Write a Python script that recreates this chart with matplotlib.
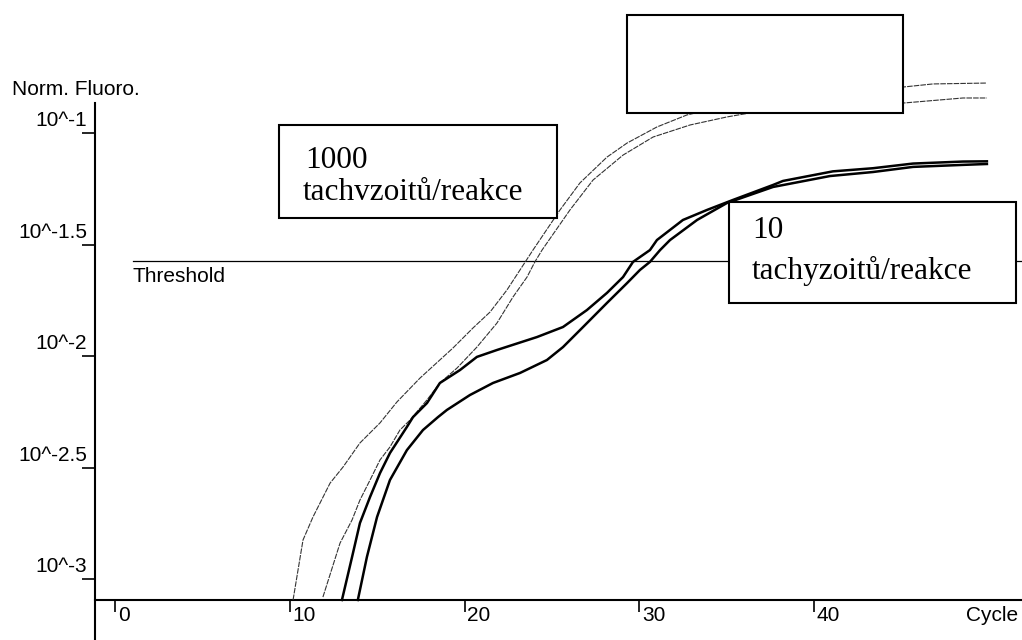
import matplotlib
matplotlib.use("Agg")
import matplotlib.pyplot as plt
from matplotlib.patches import Rectangle

# ---------------- data (log10 of normalised fluorescence vs cycle) ----------------
cyc_a = [10.17, 10.74, 11.31, 12.29, 13.03, 14.00, 15.15, 16.12, 17.44, 19.33, 20.48,
         21.45, 22.42, 23.17, 23.91, 25.46, 26.60, 28.15, 29.30, 31.01, 32.73, 36.0,
         40.0, 45.10, 46.82, 49.91]
log_a = [-3.094, -2.825, -2.722, -2.570, -2.498, -2.390, -2.300, -2.206, -2.099, -1.964,
         -1.874, -1.803, -1.704, -1.614, -1.525, -1.345, -1.224, -1.108, -1.045, -0.973,
         -0.919, -0.86, -0.82, -0.794, -0.780, -0.776]

cyc_b = [11.88, 12.86, 13.55, 14.00, 14.58, 15.15, 15.72, 16.29, 16.87, 17.84, 18.58,
         19.56, 20.70, 21.85, 22.77, 23.57, 24.02, 24.43, 26.03, 27.35, 29.07, 30.79,
         32.91, 35.02, 36.34, 40.5, 45.22, 48.54, 49.91]
log_b = [-3.081, -2.839, -2.735, -2.646, -2.556, -2.466, -2.408, -2.332, -2.287, -2.197,
         -2.121, -2.054, -1.960, -1.852, -1.735, -1.646, -1.578, -1.525, -1.345, -1.211,
         -1.099, -1.018, -0.964, -0.928, -0.910, -0.885, -0.865, -0.843, -0.843]

cyc_c = [12.97, 13.55, 14.00, 14.58, 15.15, 15.72, 16.69, 17.04, 17.84, 18.58, 19.73,
         20.70, 21.85, 24.14, 25.63, 27.00, 28.15, 29.07, 29.64, 30.61, 31.01, 32.50,
         33.88, 35.37, 37.66, 38.23, 41.09, 43.38, 45.68, 48.54, 49.91]
log_c = [-3.094, -2.901, -2.749, -2.632, -2.525, -2.435, -2.318, -2.274, -2.211, -2.121,
         -2.063, -2.004, -1.973, -1.915, -1.870, -1.794, -1.717, -1.646, -1.578, -1.525,
         -1.480, -1.390, -1.345, -1.300, -1.233, -1.215, -1.172, -1.158, -1.137, -1.128,
         -1.127]

cyc_d = [13.88, 14.40, 14.98, 15.72, 16.69, 17.61, 18.47, 18.98, 20.30, 21.62, 23.17,
         24.71, 25.63, 26.78, 28.15, 29.30, 30.04, 30.61, 31.19, 31.76, 33.31, 35.02,
         37.66, 40.92, 43.38, 45.68, 48.54, 49.91]
log_d = [-3.094, -2.901, -2.722, -2.556, -2.422, -2.332, -2.274, -2.242, -2.175, -2.121,
         -2.076, -2.018, -1.960, -1.870, -1.762, -1.673, -1.614, -1.578, -1.525, -1.480,
         -1.390, -1.314, -1.242, -1.193, -1.175, -1.152, -1.143, -1.139]

threshold = -1.574
xtick_vals = [0, 10, 20, 30, 40]
xtick_labels = ["0", "10", "20", "30", "40"]
ytick_vals = [-1.0, -1.5, -2.0, -2.5, -3.0]
ytick_labels = ["10^-1", "10^-1.5", "10^-2", "10^-2.5", "10^-3"]
y_title = "Norm. Fluoro."
x_title = "Cycle"
thr_label = "Threshold"
box_1000 = ["1000", "tachvzoitů/reakce"]
box_10 = ["10", "tachyzoitů/reakce"]

# ---------------- figure ----------------
W, H = 1022, 640
SANS = "Liberation Sans"
SERIF = "Liberation Serif"
fig = plt.figure(figsize=(W / 100, H / 100), dpi=100)
fig.patch.set_facecolor("white")

ax = fig.add_axes([95 / W, 0, 1 - 95 / W, 1])
ax.set_xlim(-1.174, 51.92)
ax.set_ylim(-3.2735, -0.4036)
ax.patch.set_alpha(0)

for s in ("top", "right"):
    ax.spines[s].set_visible(False)
ax.spines["left"].set_bounds(-3.2735, -0.8655)
ax.spines["bottom"].set_position(("data", -3.094))
for s in ("left", "bottom"):
    ax.spines[s].set_linewidth(1.5)
    ax.spines[s].set_color("black")

ax.set_xticks(xtick_vals)
ax.set_yticks(ytick_vals)
ax.tick_params(axis="x", direction="out", length=8.6, width=1.2, labelbottom=False)
ax.tick_params(axis="y", direction="out", length=9.4, width=1.2, labelleft=False)

for v, lab in zip(ytick_vals, ytick_labels):
    ax.annotate(lab, xy=(0, v), xycoords=("axes fraction", "data"),
                xytext=(-5.5, 5), textcoords="offset points",
                ha="right", va="baseline", fontsize=15, family=SANS)
for v, lab in zip(xtick_vals, xtick_labels):
    ax.annotate(lab, xy=(v, -3.094), xycoords="data",
                xytext=(2, -4), textcoords="offset points",
                ha="left", va="top", fontsize=15, family=SANS)
ax.annotate(x_title, xy=(1, -3.094), xycoords=("axes fraction", "data"),
            xytext=(-3, -4), textcoords="offset points",
            ha="right", va="top", fontsize=15, family=SANS)
fig.text(12 / W, 1 - 95 / H, y_title, ha="left", va="baseline",
         fontsize=15, family=SANS)

# threshold
ax.plot([1.0, 51.92], [threshold, threshold], color="black", lw=0.9, zorder=2)
ax.annotate(thr_label, xy=(1.0, threshold), xycoords="data",
            xytext=(0, -4), textcoords="offset points",
            ha="left", va="top", fontsize=15, family=SANS)

# curves
ax.plot(cyc_a, log_a, color="#333333", lw=0.8, ls=(0, (5, 1)), zorder=3, clip_on=False)
ax.plot(cyc_b, log_b, color="#333333", lw=0.8, ls=(0, (5, 1)), zorder=3, clip_on=False)
ax.plot(cyc_c, log_c, color="black", lw=1.8, zorder=3, clip_on=False)
ax.plot(cyc_d, log_d, color="black", lw=1.8, zorder=3, clip_on=False)

# boxes (pixel layout)
def box(x0, y0, x1, y1):
    r = Rectangle((x0 / W, 1 - y1 / H), (x1 - x0) / W, (y1 - y0) / H,
                  transform=fig.transFigure, facecolor="white",
                  edgecolor="black", lw=1.5, zorder=10)
    fig.add_artist(r)

box(279, 125, 557, 218)
box(627, 15, 903, 113)
box(729, 202, 1016, 303)

fig.text(305 / W, 1 - 168 / H, box_1000[0], ha="left", va="baseline",
         fontsize=22.5, family=SERIF, zorder=11)
fig.text(303 / W, 1 - 200 / H, box_1000[1], ha="left", va="baseline",
         fontsize=22.5, family=SERIF, zorder=11)
fig.text(752 / W, 1 - 238 / H, box_10[0], ha="left", va="baseline",
         fontsize=22.5, family=SERIF, zorder=11)
fig.text(752 / W, 1 - 279 / H, box_10[1], ha="left", va="baseline",
         fontsize=22.5, family=SERIF, zorder=11)

fig.savefig("out.png", dpi=100, facecolor="white")
